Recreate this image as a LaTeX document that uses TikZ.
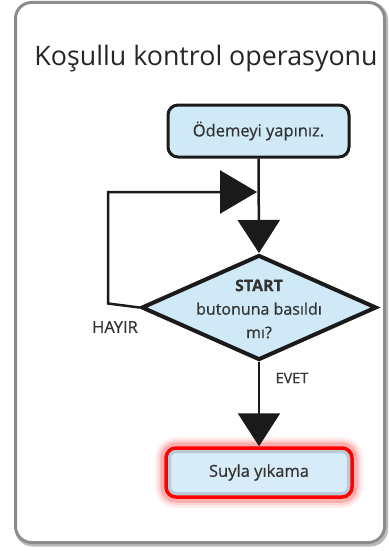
\documentclass[tikz,border=0pt]{standalone}
\usepackage{fontspec}
\setmainfont{Open Sans}
\newfontfamily\medfont{Open Sans}[FakeBold=0.6]
\usetikzlibrary{shapes.geometric,arrows.meta}
\definecolor{cardgray}{HTML}{8C8C8C}
\definecolor{boxblue}{HTML}{D0E9F7}
\definecolor{txt}{HTML}{333333}
\definecolor{lineblack}{HTML}{1A1A1A}
\tikzset{
  procbox/.style={draw=lineblack, line width=3pt, fill=boxblue, rounded corners=10pt,
    minimum width=181pt, minimum height=52pt, inner sep=0pt, text=txt, font=\medfont\fontsize{16.5}{20}\selectfont},
  decbox/.style={draw=lineblack, line width=4pt, fill=boxblue, diamond, inner sep=0pt,
    minimum width=235pt, minimum height=105pt},
  endbox/.style={draw=red, line width=3.5pt, fill=boxblue!85!white, rounded corners=10pt,
    minimum width=186pt, minimum height=49pt, inner sep=0pt, text=txt, font=\medfont\fontsize{16.5}{20}\selectfont},
  flow/.style={draw=lineblack, line width=2.5pt},
  bigtip/.style={-{Triangle[length=33pt,width=42pt]}},
  sidetip/.style={-{Triangle[length=37pt,width=43pt]}},
  lbl/.style={text=txt},
  glow/.style={draw=red, rounded corners=12pt},
}
\begin{document}
\begin{tikzpicture}[x=1pt,y=-1pt]
\useasboundingbox (0,0) rectangle (388,551);
\fill[white] (0,0) rectangle (388,551);
% card
\draw[cardgray!60, line width=3pt, rounded corners=16pt] (16.5,3.5) rectangle (386.5,545);
\draw[cardgray, line width=3pt, fill=white, rounded corners=16pt] (15.5,2.5) rectangle (384.5,542.5);
% title
\node[anchor=base, text=black!85, font=\fontsize{26.8}{30}\selectfont] (title) at (206,65) {Koşullu kontrol operasyonu};
% glow of end box
\node[endbox, draw=none, fill=none] (g) at (259,472.5) {};
\draw[glow, line width=18pt, opacity=0.07] (g.north west) rectangle (g.south east);
\draw[glow, line width=13pt, opacity=0.1] (g.north west) rectangle (g.south east);
\draw[glow, line width=8pt, opacity=0.18] (g.north west) rectangle (g.south east);
% nodes
\node[procbox] (pay) at (258.5,131) {Ödemeyi yapınız.};
\node[decbox] (dec) at (259,307.5) {};
\node[align=center, text=txt, font=\medfont\fontsize{16}{23.5}\selectfont] (dectext) at (259,309) {\textbf{START}\\butonuna basıldı\\mı?};
\node[endbox, path picture={\draw[line width=10pt, color=black!40!boxblue, opacity=0.35, rounded corners=10pt]
  (path picture bounding box.south west) rectangle (path picture bounding box.north east);}] (wash) at (259,472.5) {Suyla yıkama};
% loop join point
\coordinate (join) at (257,192);
\coordinate (lc1) at (108,303.5);
\coordinate (lc2) at (108,192);
% connectors
\draw[flow, bigtip] (pay.south) -- (dec.north);
\draw[flow, sidetip] (dec.west) -- (lc1) -- (lc2) -- (join);
\draw[flow, bigtip] (dec.south) -- (wash.north);
% labels
\node[lbl, font=\medfont\fontsize{16.5}{20}\selectfont] (hayir) at (115,327) {HAYIR};
\node[lbl, font=\medfont\fontsize{14.5}{18}\selectfont] (evet) at (292,378) {EVET};
\end{tikzpicture}
\end{document}
